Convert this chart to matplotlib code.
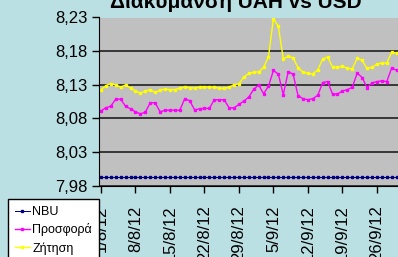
import matplotlib
matplotlib.use("Agg")
import matplotlib.pyplot as plt
import pandas as pd

plt.rcParams['font.family'] = ['Liberation Sans', 'DejaVu Sans']

# daily dates, 1/8/12 .. 30/9/12
dates = pd.date_range('2012-08-01', periods=61, freq='D')

nbu = [7.993] * 61

offer = [8.0913, 8.0958, 8.0982, 8.1087, 8.1087, 8.0978, 8.0943, 8.0898, 8.0868, 8.0892,
         8.1033, 8.1033, 8.0898, 8.0922, 8.0922, 8.0922, 8.0922, 8.1093, 8.1063, 8.0928,
         8.0943, 8.0950, 8.0948, 8.1078, 8.1078, 8.1078, 8.0958, 8.0958, 8.1008, 8.1057,
         8.1117, 8.1233, 8.1297, 8.1168, 8.1278, 8.1513, 8.1458, 8.1153, 8.1492, 8.1458,
         8.1138, 8.1093, 8.1078, 8.1093, 8.1143, 8.1333, 8.1348, 8.1162, 8.1162, 8.1207,
         8.1228, 8.1262, 8.1473, 8.1408, 8.1258, 8.1327, 8.1348, 8.1357, 8.1348, 8.1548,
         8.1515]

demand = [8.1228, 8.1288, 8.1318, 8.1297, 8.1267, 8.1297, 8.1252, 8.1207, 8.1177, 8.1207,
          8.1228, 8.1188, 8.1218, 8.1237, 8.1228, 8.1228, 8.1252, 8.1267, 8.1258, 8.1252,
          8.1267, 8.1267, 8.1267, 8.1267, 8.1248, 8.1248, 8.1263, 8.1303, 8.1312, 8.1417,
          8.1468, 8.1488, 8.1492, 8.1558, 8.1717, 8.2283, 8.2167, 8.1687, 8.1723, 8.1702,
          8.1552, 8.1492, 8.1468, 8.1462, 8.1522, 8.1683, 8.1713, 8.1563, 8.1563, 8.1573,
          8.1548, 8.1537, 8.1693, 8.1663, 8.1543, 8.1558, 8.1608, 8.1623, 8.1623, 8.1783,
          8.1768]

y_ticks = [7.98, 8.03, 8.08, 8.13, 8.18, 8.23]
x_tick_labels = ['1/8/12', '8/8/12', '15/8/12', '22/8/12', '29/8/12',
                 '5/9/12', '12/9/12', '19/9/12', '26/9/12']
series_labels = ['NBU', 'Προσφορά', 'Ζήτηση']

fig = plt.figure(figsize=(3.98, 2.57), dpi=100)
fig.patch.set_facecolor('#BAE0E3')
ax = fig.add_axes([99 / 398, 71.3 / 257, 304 / 398, 168.2 / 257])
ax.set_facecolor('#C0C0C0')

x = [d.toordinal() for d in dates]
ax.plot(x, nbu, color='#000080', marker='s', markersize=1.8, lw=0.7, label=series_labels[0])
ax.plot(x, offer, color='#FF00FF', marker='s', markersize=2.0, lw=1, label=series_labels[1])
ax.plot(x, demand, color='#FFFF00', marker='s', markersize=2.0, lw=1, label=series_labels[2])

ax.set_ylim(7.98, 8.23)
ax.set_yticks(y_ticks)
ax.set_yticklabels([f'{v:.2f}'.replace('.', ',') for v in y_ticks], fontsize=12)
ax.set_xlim(x[0] - 0.4, x[0] + 61.3)
ax.set_xticks(x[::7][:len(x_tick_labels)])
ax.set_xticklabels(x_tick_labels, rotation=90, fontsize=12, va='top')
ax.tick_params(axis='both', direction='out', length=5, width=1, color='black')
ax.tick_params(axis='y', pad=3)
ax.tick_params(axis='x', pad=9)
ax.grid(axis='y', color='#202020', lw=1.2)
ax.set_axisbelow(True)
for s in ['top', 'right']:
    ax.spines[s].set_visible(False)
ax.spines['left'].set_color('black')
ax.spines['bottom'].set_color('black')

fig.text(236 / 398, 1 - 8 / 257, 'Διακύμανση UAH vs USD', ha='center', va='baseline',
         fontsize=15, fontweight='bold')

leg = fig.legend(loc='upper left', bbox_to_anchor=(8 / 398, 1 - 199 / 257),
                 fontsize=9, frameon=True, fancybox=False, numpoints=1,
                 handlelength=1.2, handletextpad=0.2, labelspacing=0.45,
                 borderpad=0.55, borderaxespad=0)
leg.get_frame().set_edgecolor('black')
leg.get_frame().set_facecolor('white')
leg.get_frame().set_alpha(1)

fig.savefig('out.png', dpi=100, facecolor=fig.get_facecolor())
